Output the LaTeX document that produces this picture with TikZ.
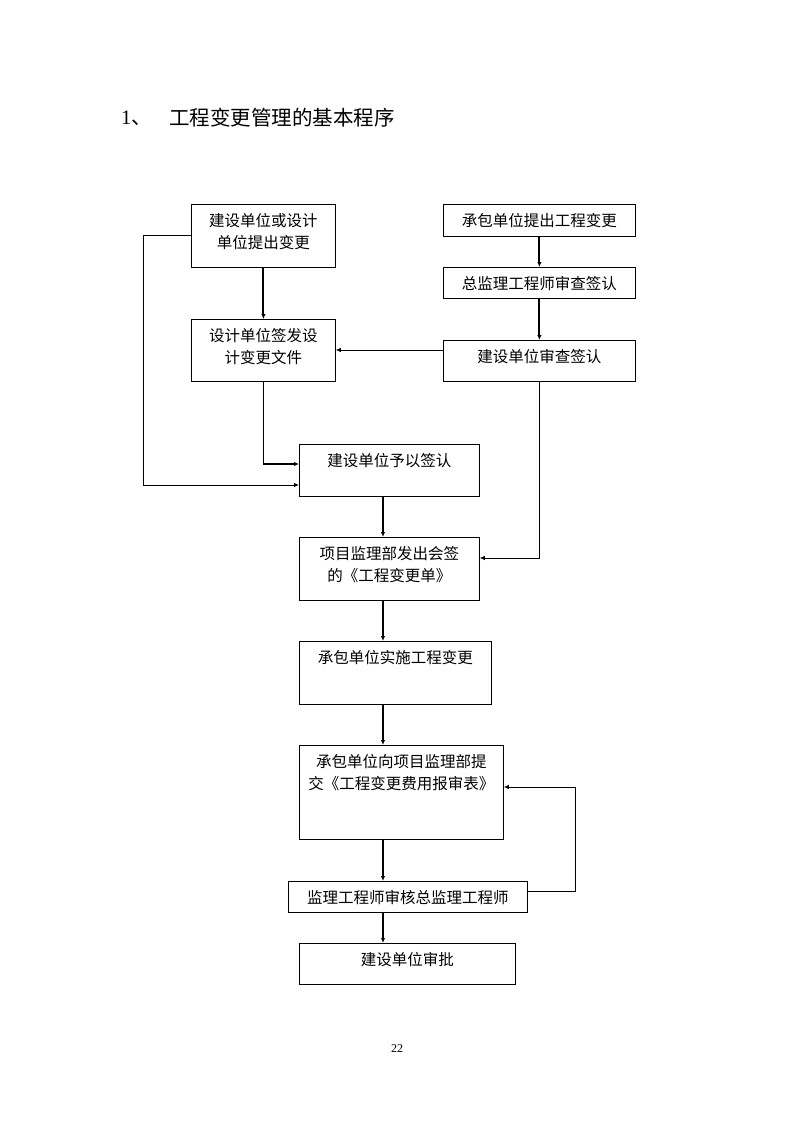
\documentclass[tikz,border=0pt]{standalone}
\usepackage{fontspec}
\setmainfont{Liberation Serif}
\newfontfamily\cjk{Noto Sans CJK SC}
\usetikzlibrary{arrows.meta}
\begin{document}
\begin{tikzpicture}[x=1pt,y=-1pt,
 box/.style={draw, line width=0.8pt, anchor=north west, inner sep=0pt},
 lbl/.style={anchor=north, yshift=-9pt, font=\cjk\fontsize{15.5}{22}\selectfont, align=center, inner sep=0pt},
 thk/.style={line width=2pt, -{Latex[length=5pt,width=4.5pt]}},
 thn/.style={line width=0.8pt, -{Latex[length=5pt,width=4.5pt]}},
 plain/.style={line width=0.8pt}]
\useasboundingbox (0,0) rectangle (794,1123);
% title
\node[anchor=west, inner sep=0pt, font=\fontsize{20.5}{24}\selectfont] (num) at (121,118) {1\cjk 、};
\node[anchor=west, inner sep=0pt, font=\cjk\fontsize{20.5}{24}\selectfont] (title) at (169,118) {工程变更管理的基本程序};
% boxes
\node[box, minimum width=144pt, minimum height=63pt] (A) at (191,204) {};
\node[lbl] (At) at (A.north) {建设单位或设计\\单位提出变更};
\node[box, minimum width=192pt, minimum height=32pt] (B) at (443,204) {};
\node[lbl] (Bt) at (B.north) {承包单位提出工程变更};
\node[box, minimum width=192pt, minimum height=31pt] (C) at (443,267) {};
\node[lbl] (Ct) at (C.north) {总监理工程师审查签认};
\node[box, minimum width=144pt, minimum height=62pt] (D) at (191,319) {};
\node[lbl] (Dt) at (D.north) {设计单位签发设\\计变更文件};
\node[box, minimum width=192pt, minimum height=41pt] (E) at (443,340) {};
\node[lbl] (Et) at (E.north) {建设单位审查签认};
\node[box, minimum width=180pt, minimum height=52pt] (F) at (299,444) {};
\node[lbl] (Ft) at (F.north) {建设单位予以签认};
\node[box, minimum width=180pt, minimum height=63pt] (G) at (299,537) {};
\node[lbl] (Gt) at (G.north) {项目监理部发出会签\\的《工程变更单》};
\node[box, minimum width=192pt, minimum height=63pt] (H) at (299,641) {};
\node[lbl] (Ht) at (H.north) {承包单位实施工程变更};
\node[box, minimum width=204pt, minimum height=94pt] (I) at (299,745) {};
\node[lbl] (It) at (I.north) {承包单位向项目监理部提\\交《工程变更费用报审表》};
\node[box, minimum width=239pt, minimum height=31pt] (J) at (288,881) {};
\node[lbl] (Jt) at (J.north) {监理工程师审核总监理工程师};
\node[box, minimum width=216pt, minimum height=41pt] (K) at (299,943) {};
\node[lbl] (Kt) at (K.north) {建设单位审批};
% page number
\node[inner sep=0pt, font=\fontsize{12}{14}\selectfont] (pg) at (397,1049) {22};
% helper coordinates
\coordinate (ax) at (383,0);
\coordinate (ed) at (0,350);
\coordinate (df) at (0,464);
\coordinate (al) at (143,0);
\coordinate (fy) at (0,485);
\coordinate (eg) at (0,558);
\coordinate (jx) at (575,0);
\coordinate (iy) at (0,787);
\coordinate (jy) at (0,891);
% connectors
\draw[thk] (A.south) -- (D.north);
\draw[thk] (B.south) -- (C.north);
\draw[thk] (C.south) -- (E.north);
\draw[thn] (E.west |- ed) -- (D.east |- ed);
\draw[plain] (D.south) -- (D.south |- df);
\draw[thk] (D.south |- df) -- (F.west |- df);
\draw[thn] (A.west) -| (al |- fy) -- (F.west |- fy);
\draw[thk] (F.south -| ax) -- (G.north -| ax);
\draw[thn] (E.south) |- (G.east |- eg);
\draw[thk] (G.south -| ax) -- (H.north -| ax);
\draw[thk] (H.south -| ax) -- (I.north -| ax);
\draw[thk] (I.south -| ax) -- (J.north -| ax);
\draw[thk] (J.south -| ax) -- (K.north -| ax);
\draw[thn] (J.east |- jy) -| (jx |- iy) -- (I.east |- iy);
\end{tikzpicture}
\end{document}
